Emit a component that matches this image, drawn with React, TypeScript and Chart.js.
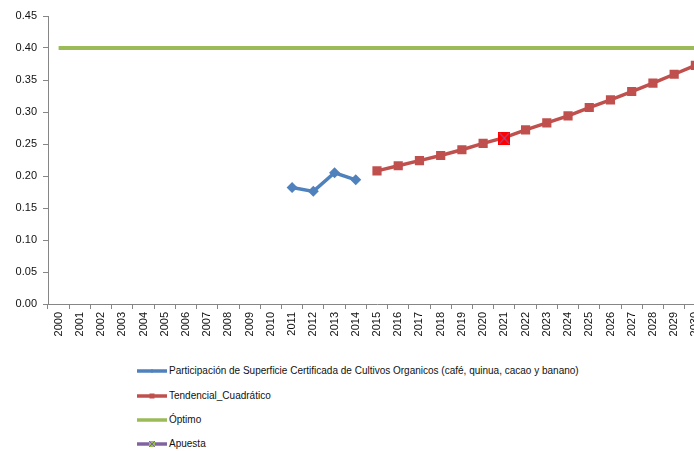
import React, { useEffect, useRef } from 'react';
import { Chart, registerables } from 'chart.js';

Chart.register(...registerables);

const years: string[] = [
  '2000', '2001', '2002', '2003', '2004', '2005', '2006', '2007', '2008', '2009',
  '2010', '2011', '2012', '2013', '2014', '2015', '2016', '2017', '2018', '2019',
  '2020', '2021', '2022', '2023', '2024', '2025', '2026', '2027', '2028', '2029', '2030',
];

const participacion: (number | null)[] = [
  null, null, null, null, null, null, null, null, null, null,
  null, 0.182, 0.176, 0.205, 0.194, null, null, null, null, null,
  null, null, null, null, null, null, null, null, null, null, null,
];

const tendencial: (number | null)[] = [
  null, null, null, null, null, null, null, null, null, null,
  null, null, null, null, null, 0.208, 0.216, 0.224, 0.232, 0.241,
  0.251, 0.260, 0.272, 0.283, 0.294, 0.307, 0.319, 0.332, 0.345, 0.359, 0.373,
];

const optimo: number[] = [
  0.4, 0.4, 0.4, 0.4, 0.4, 0.4, 0.4, 0.4, 0.4, 0.4,
  0.4, 0.4, 0.4, 0.4, 0.4, 0.4, 0.4, 0.4, 0.4, 0.4,
  0.4, 0.4, 0.4, 0.4, 0.4, 0.4, 0.4, 0.4, 0.4, 0.4, 0.4,
];

const apuesta: (number | null)[] = [
  null, null, null, null, null, null, null, null, null, null,
  null, null, null, null, null, null, null, null, null, null,
  null, 0.259, null, null, null, null, null, null, null, null, null,
];

const yTicks: number[] = [0, 0.05, 0.1, 0.15, 0.2, 0.25, 0.3, 0.35, 0.4, 0.45];

const legendLabels: string[] = [
  'Participación de Superficie Certificada de Cultivos Organicos (café, quinua, cacao y banano)',
  'Tendencial_Cuadrático',
  'Óptimo',
  'Apuesta',
];

const BLUE = '#4F81BD';
const RED = '#C0504D';
const GREEN = '#9BBB59';
const PURPLE = '#8064A2';
const FONT = '"Liberation Sans", Arial, sans-serif';

function makeApuestaMarker(): HTMLCanvasElement {
  const c = document.createElement('canvas');
  c.width = 12;
  c.height = 13;
  const ctx = c.getContext('2d')!;
  ctx.fillStyle = '#FF0000';
  ctx.fillRect(0, 0, 12, 13);
  ctx.strokeStyle = '#7F6FC8';
  ctx.lineWidth = 1;
  ctx.beginPath();
  ctx.moveTo(1, 1);
  ctx.lineTo(11, 12);
  ctx.moveTo(11, 1);
  ctx.lineTo(1, 12);
  ctx.stroke();
  return c;
}

function LegendSwatch({ idx }: { idx: number }) {
  const colors = [BLUE, RED, GREEN, PURPLE];
  const col = colors[idx];
  return (
    <svg width={32} height={10} style={{ display: 'block' }}>
      <line x1={1} y1={5} x2={31} y2={5} stroke={col} strokeWidth={3.5} />
      {idx === 0 && <polygon points="16,3 18,5 16,7 14,5" fill={col} />}
      {idx === 1 && <rect x={13.5} y={2.5} width={5} height={5} fill={col} />}
      {idx === 3 && (
        <g>
          <rect x={13} y={2} width={6} height={6} fill={GREEN} />
          <line x1={13} y1={2} x2={19} y2={8} stroke={PURPLE} strokeWidth={1} />
          <line x1={19} y1={2} x2={13} y2={8} stroke={PURPLE} strokeWidth={1} />
        </g>
      )}
    </svg>
  );
}

export default function App() {
  const ref = useRef<HTMLCanvasElement | null>(null);

  useEffect(() => {
    if (!ref.current) return;
    const marker = makeApuestaMarker();
    const chart = new Chart(ref.current, {
      type: 'line',
      data: {
        labels: years,
        datasets: [
          {
            label: legendLabels[0],
            data: participacion,
            borderColor: BLUE,
            backgroundColor: BLUE,
            borderWidth: 3.5,
            pointStyle: 'rectRot',
            pointRadius: 5.5,
            pointBorderWidth: 0,
            spanGaps: false,
            order: 3,
          },
          {
            label: legendLabels[1],
            data: tendencial,
            borderColor: RED,
            backgroundColor: RED,
            borderWidth: 3.5,
            pointStyle: 'rect',
            pointRadius: 6.5,
            pointBorderWidth: 0,
            spanGaps: false,
            order: 2,
          },
          {
            label: legendLabels[2],
            data: optimo,
            borderColor: GREEN,
            backgroundColor: GREEN,
            borderWidth: 4,
            pointRadius: 0,
            order: 4,
          },
          {
            label: legendLabels[3],
            data: apuesta,
            borderColor: PURPLE,
            backgroundColor: '#FF0000',
            borderWidth: 3,
            pointStyle: marker as any,
            pointRadius: 6,
            order: 0,
          },
        ],
      },
      options: {
        animation: false,
        responsive: false,
        layout: { padding: { top: 16, right: 1, left: 0, bottom: 0 } },
        plugins: {
          legend: { display: false },
          tooltip: { enabled: false },
        },
        scales: {
          x: {
            type: 'category',
            offset: true,
            border: { color: '#868686', width: 1 },
            grid: {
              display: true,
              drawOnChartArea: false,
              drawTicks: true,
              tickLength: 5,
              color: '#868686',
              offset: true,
            },
            ticks: {
              autoSkip: false,
              minRotation: 90,
              maxRotation: 90,
              padding: 3,
              color: '#111',
              font: { family: FONT, size: 11 },
            },
            afterFit: (scale: any) => {
              scale.height = 46;
            },
          },
          y: {
            min: 0,
            max: 0.45,
            border: { color: '#868686', width: 1 },
            grid: {
              display: true,
              drawOnChartArea: false,
              drawTicks: true,
              tickLength: 5,
              color: '#868686',
            },
            afterBuildTicks: (scale: any) => {
              scale.ticks = yTicks.map((v) => ({ value: v }));
            },
            ticks: {
              padding: 6,
              color: '#111',
              font: { family: FONT, size: 11 },
              callback: (v: any) => Number(v).toFixed(2),
            },
            afterFit: (scale: any) => {
              scale.width = 48;
            },
          },
        },
      },
    } as any);
    return () => chart.destroy();
  }, []);

  const rowTops = [371, 395.5, 420, 444];

  return (
    <div
      style={{
        position: 'fixed',
        left: 0,
        top: 0,
        width: 694,
        height: 451,
        overflow: 'hidden',
        background: '#fff',
        fontFamily: FONT,
      }}
    >
      <canvas ref={ref} width={715} height={350} style={{ display: 'block', width: 715, height: 350 }} />
      {legendLabels.map((lab, i) => (
        <div
          key={lab}
          style={{
            position: 'absolute',
            left: 136,
            top: rowTops[i] - 6,
            height: 12,
            display: 'flex',
            alignItems: 'center',
            whiteSpace: 'nowrap',
            fontSize: 10,
            color: '#111',
            lineHeight: '12px',
          }}
        >
          <LegendSwatch idx={i} />
          <span style={{ marginLeft: 1 }}>{lab}</span>
        </div>
      ))}
    </div>
  );
}
